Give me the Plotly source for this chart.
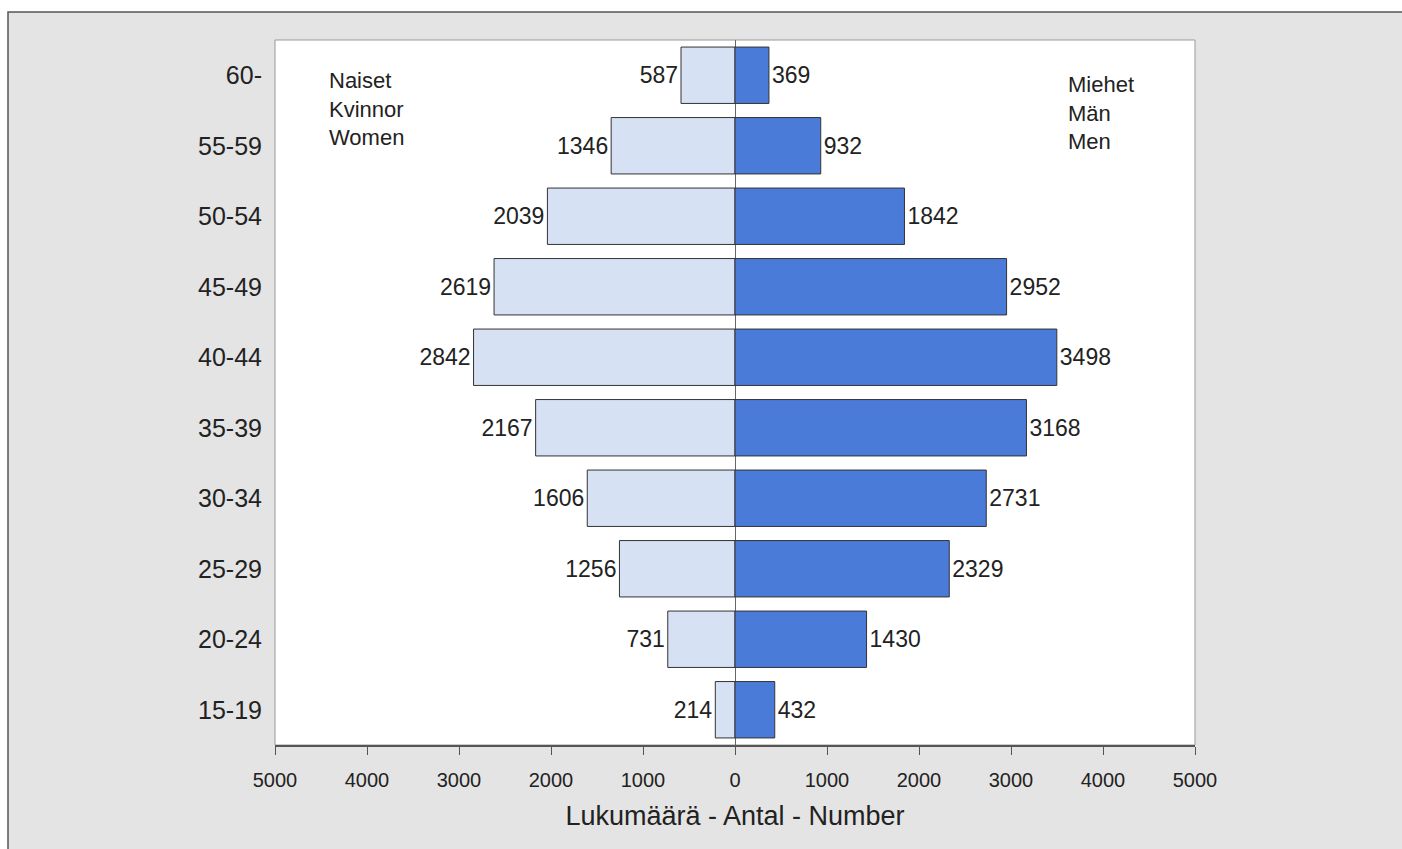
import plotly.graph_objects as go

ages = ["60-", "55-59", "50-54", "45-49", "40-44", "35-39", "30-34", "25-29", "20-24", "15-19"]
women = [587, 1346, 2039, 2619, 2842, 2167, 1606, 1256, 731, 214]
men = [369, 932, 1842, 2952, 3498, 3168, 2731, 2329, 1430, 432]
tick_vals = [-5000, -4000, -3000, -2000, -1000, 0, 1000, 2000, 3000, 4000, 5000]
tick_text = ["5000", "4000", "3000", "2000", "1000", "0", "1000", "2000", "3000", "4000", "5000"]

FONT = "Liberation Sans, Arial, sans-serif"

fig = go.Figure()
fig.add_trace(go.Bar(
    y=ages, x=[-v for v in women], orientation="h", width=0.8,
    marker=dict(color="#d6e1f4", line=dict(color="#333333", width=1)),
    text=[str(v) for v in women], textposition="outside",
    textfont=dict(size=23, color="#222222", family=FONT),
    cliponaxis=False, name="Naiset", hoverinfo="skip"))
fig.add_trace(go.Bar(
    y=ages, x=men, orientation="h", width=0.8,
    marker=dict(color="#4b7bd8", line=dict(color="#333333", width=1)),
    text=[str(v) for v in men], textposition="outside",
    textfont=dict(size=23, color="#222222", family=FONT),
    cliponaxis=False, name="Miehet", hoverinfo="skip"))

L, R, T, B = 275, 207, 40, 104
W, H = 1402, 849
pw, ph = W - L - R, H - T - B

def px_x(p):
    return (p - L) / pw

def px_y(p):
    return (H - B - p) / ph

fig.update_layout(
    width=W, height=H, barmode="overlay", showlegend=False,
    margin=dict(l=L, r=R, t=T, b=B, pad=0),
    paper_bgcolor="white", plot_bgcolor="white",
    font=dict(family=FONT, color="#222222"),
    xaxis=dict(range=[-5000, 5000], tickvals=tick_vals, ticktext=tick_text,
               tickfont=dict(size=20), ticks="outside", ticklen=8, tickcolor="#555555",
               ticklabelstandoff=8,
               showline=True, linecolor="#555555", linewidth=1.5, showgrid=False,
               zeroline=True, zerolinecolor="#666666", zerolinewidth=1,
               title=dict(text="Lukumäärä - Antal - Number", font=dict(size=27), standoff=16),
               fixedrange=True),
    yaxis=dict(categoryorder="array", categoryarray=ages[::-1], range=[-0.5, 9.5],
               tickfont=dict(size=25), ticks="", ticklabelstandoff=12,
               showline=False, showgrid=False, fixedrange=True),
    shapes=[
        dict(type="rect", xref="paper", yref="paper", layer="below",
             x0=px_x(8), x1=px_x(1430), y0=px_y(880), y1=px_y(12),
             fillcolor="#e4e4e4", line=dict(color="#555555", width=1.5)),
        dict(type="rect", xref="paper", yref="paper", layer="below",
             x0=0, x1=1, y0=0, y1=1,
             fillcolor="white", line=dict(color="#999999", width=1)),
    ],
    annotations=[
        dict(xref="paper", yref="paper", x=px_x(327), y=px_y(66), xanchor="left", yanchor="top",
             align="left", showarrow=False, text="Naiset<br>Kvinnor<br>Women",
             font=dict(size=22, color="#222222")),
        dict(xref="paper", yref="paper", x=px_x(1066), y=px_y(70), xanchor="left", yanchor="top",
             align="left", showarrow=False, text="Miehet<br>Män<br>Men",
             font=dict(size=22, color="#222222")),
    ],
)

fig.write_html("out.html", config={"displayModeBar": False},
               post_script="document.body.style.margin='0';document.body.style.overflow='hidden';")
